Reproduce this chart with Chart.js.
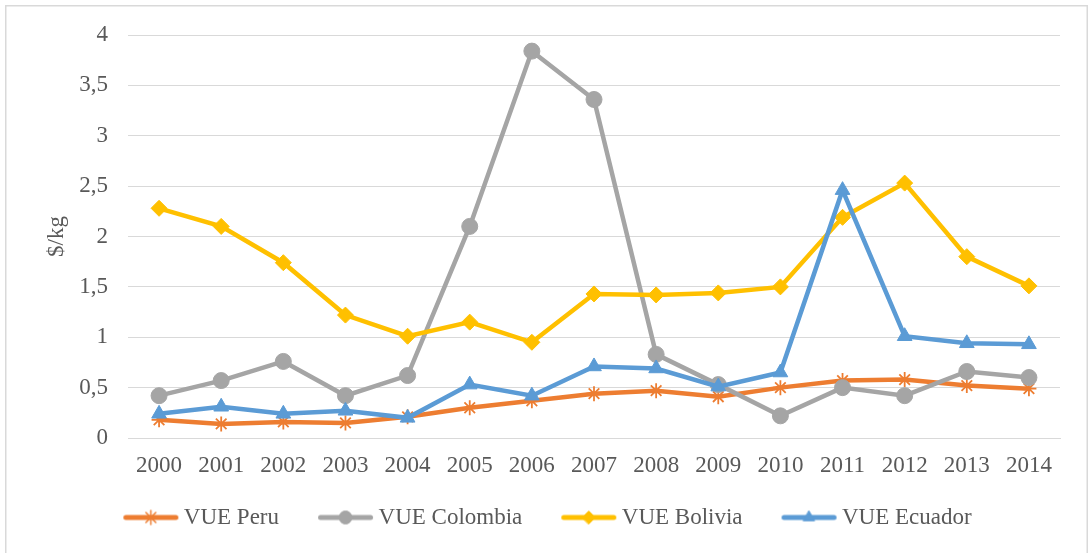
<!DOCTYPE html>
<html>
<head>
<meta charset="utf-8">
<script src="https://cdn.jsdelivr.net/npm/chart.js@4/dist/chart.umd.min.js"></script>
<style>
  html, body { margin: 0; padding: 0; background: #fff; }
  #wrap { position: relative; width: 1089px; height: 553px; }
</style>
</head>
<body>
<div id="wrap"><canvas id="c" width="1089" height="553"></canvas></div>
<script>
// Years on the category axis
const years = ['2000','2001','2002','2003','2004','2005','2006','2007','2008','2009','2010','2011','2012','2013','2014'];

// Unit export values, $/kg
const vuePeru     = [0.18, 0.14, 0.16, 0.15, 0.21, 0.30, 0.37, 0.44, 0.47, 0.41, 0.50, 0.57, 0.58, 0.52, 0.49];
const vueColombia = [0.42, 0.57, 0.76, 0.42, 0.62, 2.10, 3.84, 3.36, 0.83, 0.53, 0.22, 0.50, 0.42, 0.66, 0.60];
const vueBolivia  = [2.28, 2.10, 1.74, 1.22, 1.01, 1.15, 0.95, 1.43, 1.42, 1.44, 1.50, 2.19, 2.53, 1.80, 1.51];
const vueEcuador  = [0.24, 0.31, 0.24, 0.27, 0.20, 0.53, 0.42, 0.71, 0.69, 0.51, 0.65, 2.46, 1.01, 0.94, 0.93];

const seriesNames = ['VUE Peru', 'VUE Colombia', 'VUE Bolivia', 'VUE Ecuador'];
const yTicks = [0, 0.5, 1, 1.5, 2, 2.5, 3, 3.5, 4];

const FONT = "'Liberation Serif', 'Times New Roman', serif";
const TEXT = '#595959';
Chart.defaults.font.family = FONT;
Chart.defaults.font.size = 23;
Chart.defaults.color = TEXT;

const styles = [
  { color: '#ED7D31', point: 'star',     radius: 7.5, pbw: 1.8 },
  { color: '#A5A5A5', point: 'circle',   radius: 8,   pbw: 1 },
  { color: '#FFC000', point: 'rectRot',  radius: 8,   pbw: 1 },
  { color: '#5B9BD5', point: 'triangle', radius: 8.5, pbw: 1 }
];

// Legend swatch: a short line with the series marker in its middle
function legendSwatch(st) {
  const W = 92, H = 24;
  const cv = document.createElement('canvas');
  cv.width = W; cv.height = H;
  const ctx = cv.getContext('2d');
  const x0 = 36, x1 = 91, cy = H / 2;
  ctx.strokeStyle = st.color;
  ctx.lineWidth = 5;
  ctx.lineCap = 'round';
  ctx.beginPath(); ctx.moveTo(x0 + 2.5, cy); ctx.lineTo(x1 - 2.5, cy); ctx.stroke();
  ctx.fillStyle = st.color;
  ctx.strokeStyle = st.color;
  ctx.lineWidth = st.point === 'star' ? 1.5 : 1;
  Chart.helpers.drawPoint(ctx, { pointStyle: st.point, radius: st.point === 'star' ? 7 : 6.5, rotation: 0, borderWidth: ctx.lineWidth }, (x0 + x1) / 2, cy);
  return cv;
}

const seriesData = [vuePeru, vueColombia, vueBolivia, vueEcuador];
const datasets = seriesData.map((d, i) => ({
  label: seriesNames[i],
  data: d,
  borderColor: styles[i].color,
  backgroundColor: styles[i].color,
  borderWidth: 4.5,
  pointStyle: styles[i].point,
  pointRadius: styles[i].radius,
  pointHoverRadius: styles[i].radius,
  pointBorderWidth: styles[i].pbw,
  pointBackgroundColor: styles[i].color,
  pointBorderColor: styles[i].color,
  tension: 0,
  order: 4 - i
}));

// Thin light-grey frame round the chart
const frame = {
  id: 'frame',
  afterDraw(chart) {
    const ctx = chart.ctx;
    ctx.save();
    ctx.strokeStyle = '#D9D9D9';
    ctx.lineWidth = 1.5;
    ctx.beginPath();
    ctx.moveTo(5.75, 560); ctx.lineTo(5.75, 5.75); ctx.lineTo(1087.25, 5.75); ctx.lineTo(1087.25, 560);
    ctx.stroke();
    ctx.restore();
  }
};

const swatches = styles.map(legendSwatch);
const legendFont = { family: FONT, size: 23 };

new Chart(document.getElementById('c'), {
  type: 'line',
  data: { labels: years, datasets },
  plugins: [frame],
  options: {
    responsive: false,
    animation: false,
    events: [],
    layout: { padding: { left: 6, right: 29, top: 35, bottom: 14 } },
    scales: {
      x: {
        offset: true,
        grid: { display: false, drawTicks: false },
        border: { display: true, color: '#D9D9D9', width: 1 },
        ticks: { color: TEXT, font: { family: FONT, size: 23 }, padding: 14, maxRotation: 0, autoSkip: false },
        afterFit(scale) { scale.height = 58; }
      },
      y: {
        min: 0, max: 4,
        afterBuildTicks(scale) { scale.ticks = yTicks.map(v => ({ value: v })); },
        grid: { color: '#D9D9D9', lineWidth: 1, drawTicks: false },
        border: { display: false },
        ticks: {
          color: TEXT, font: { family: FONT, size: 23 }, padding: 20,
          callback: v => String(v).replace('.', ',')
        },
        title: { display: true, text: '$/kg', color: TEXT, font: { family: FONT, size: 23 }, padding: { top: 37, bottom: 0 } },
        afterFit(scale) { scale.width = 122; }
      }
    },
    plugins: {
      tooltip: { enabled: false },
      legend: {
        position: 'bottom',
        labels: {
          color: TEXT,
          font: legendFont,
          usePointStyle: true,
          pointStyleWidth: 78,
          padding: 10,
          sort: (a, b) => a.datasetIndex - b.datasetIndex,
          generateLabels(chart) {
            return chart.data.datasets.map((ds, i) => ({
              text: ds.label,
              fillStyle: ds.borderColor,
              strokeStyle: ds.borderColor,
              lineWidth: 0,
              pointStyle: swatches[i],
              fontColor: TEXT,
              hidden: false,
              datasetIndex: i
            }));
          }
        }
      }
    }
  }
});
</script>
</body>
</html>
